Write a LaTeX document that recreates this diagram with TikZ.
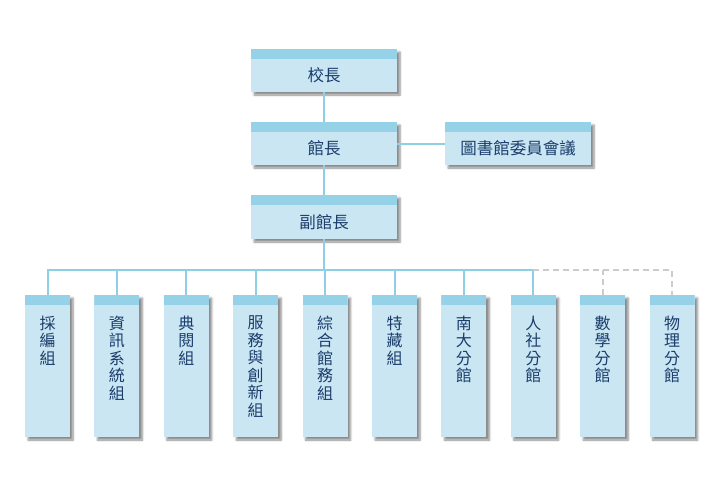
\documentclass[tikz,border=0pt]{standalone}
\usepackage{fontspec}
\newfontfamily\cjk{Noto Sans CJK TC}
\usetikzlibrary{positioning,shadows,shadows.blur}
\definecolor{bodyblue}{HTML}{C9E6F2}
\definecolor{headblue}{HTML}{96D2E7}
\definecolor{lineblue}{HTML}{8ECFE3}
\definecolor{textnavy}{HTML}{1B3C6C}
\definecolor{dashgray}{HTML}{CCCCCC}

\begin{document}
\begin{tikzpicture}[x=1pt,y=-1pt]
	\tikzset{box/.style={rectangle,fill=bodyblue,inner sep=0pt,text=textnavy,
		font=\cjk\fontsize{16.5}{17.5}\selectfont,
		blur shadow={shadow xshift=3pt,shadow yshift=-3pt,shadow blur radius=2pt,shadow blur steps=6,shadow opacity=45},
		path picture={\fill[headblue] (path picture bounding box.north west) rectangle ([yshift=-10pt]path picture bounding box.north east);}}}
	\tikzset{headbox/.style={box,minimum width=146pt,minimum height=43pt,text height=22pt,text depth=0pt}}
	\tikzset{unitbox/.style={box,minimum width=45pt,minimum height=142pt}}
	\tikzset{link/.style={draw=lineblue,line width=2pt}}
	\tikzset{dashlink/.style={draw=dashgray,line width=2pt,dash pattern=on 6pt off 4pt}}
	\useasboundingbox (0,0) rectangle (725,480);
	
	\node[headbox] (prin) at (324,70.5)  {校長};
	\node[headbox] (dir)  at (324,143.5) {館長};
	\node[headbox] (comm) at (518,143.5) {圖書館委員會議};
	\node[headbox,minimum height=44pt] (vice) at (324,217) {副館長};
	
	\foreach \name/\txt [count=\i from 0] in {acq/採\\編\\組, it/資\\訊\\系\\統\\組, read/典\\閱\\組,
		serv/服\\務\\與\\創\\新\\組, gen/綜\\合\\館\\務\\組, spec/特\\藏\\組, nanda/南\\大\\分\\館,
		soc/人\\社\\分\\館, math/數\\學\\分\\館, phys/物\\理\\分\\館}
		\node[unitbox,label={[anchor=north,yshift=-21pt,inner sep=0pt,align=center,text=textnavy,
			font=\cjk\fontsize{16}{17.5}\selectfont]north:\txt}] (\name) at (47.5+69.4*\i,366) {};
	
	\coordinate (hub) at (324,270);
	\path[link] (prin) -- (dir);
	\path[link] (dir) -- (comm);
	\path[link] (dir) -- (vice);
	\path[link] (vice) -- (hub);
	\path[link] (acq.north) -- (acq |- hub) -- (soc |- hub) -- (soc.north);
	\foreach \name in {it,read,serv,gen,spec,nanda}
		\path[link] (\name.north) -- (\name |- hub);
	\path[dashlink] (soc |- hub) -- (phys |- hub) -- (phys.north);
	\path[dashlink] (math.north) -- (math |- hub);
\end{tikzpicture}
\end{document}
